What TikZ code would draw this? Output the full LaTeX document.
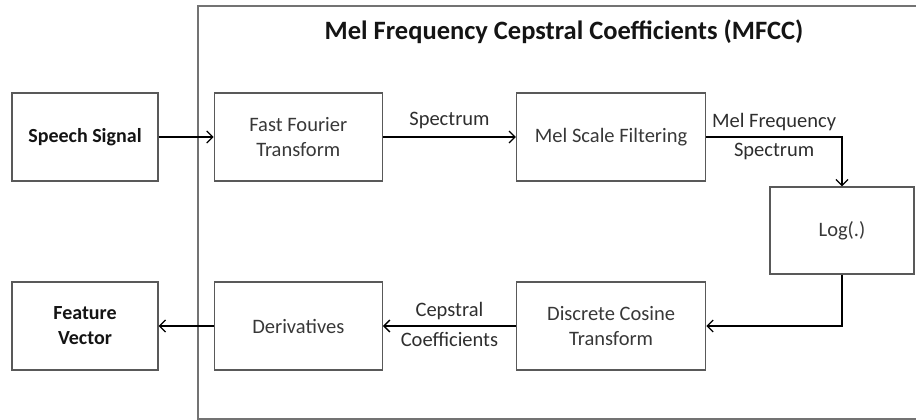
\documentclass[tikz,border=0pt]{standalone}
\usepackage{fontspec}
\setmainfont{Carlito}
\usetikzlibrary{positioning,arrows.meta}
\tikzstyle{block} = [rectangle, draw=black!65, line width=1.3pt, text=black!78, font=\fontsize{20.5}{25}\selectfont, align=center, minimum height=88pt, inner sep=2pt]
\tikzstyle{io} = [block, text=black!92, font=\bfseries\fontsize{20}{25}\selectfont, minimum width=146pt]
\tikzstyle{lbl} = [text=black!82, font=\fontsize{20.5}{25}\selectfont, align=center, inner sep=2pt]

\begin{document}
\begin{tikzpicture}[x=1pt, y=-1pt, >={Straight Barb[length=6pt,width=12pt,line width=1.3pt]}, node distance=55pt]
    \useasboundingbox (0,0) rectangle (916,420);
    % MFCC frame
    \begin{scope}
        \clip (0,0) rectangle (916,420);
        \draw[black!55, line width=1.5pt] (198,6) rectangle (930,419);
    \end{scope}
    \node[font=\bfseries\fontsize{26.5}{30}\selectfont, text=black!92] (title) at (564,32) {Mel Frequency Cepstral Coefficients (MFCC)};

    \node[io] (speech) at (85,137) {Speech Signal};
    \node[block, minimum width=168pt, right=55pt of speech] (fft) {Fast Fourier\\Transform};
    \node[block, minimum width=189pt, right=133pt of fft] (mel) {Mel Scale Filtering};
    \node[block, minimum width=144pt, minimum height=87pt] (log) at (842,230.5) {Log(.)};
    \node[io] (feature) at (85,326) {Feature\\Vector};
    \node[block, minimum width=168pt, right=55pt of feature] (deriv) {Derivatives};
    \node[block, minimum width=189pt, right=133pt of deriv] (dct) {Discrete Cosine\\Transform};

    % top row
    \draw[->, line width=1.2pt] (speech) -- (fft);
    \draw[->, line width=1.2pt] (fft) -- node[lbl, above=6pt] {Spectrum} (mel);
    \draw[->, line width=1.2pt] (mel) -| node[lbl, pos=0.25, above=4pt] {Mel Frequency}
        node[lbl, pos=0.25, below=4pt] {Spectrum} (log);

    % bottom row
    \draw[->, line width=1.2pt] (log) |- (dct);
    \draw[->, line width=1.2pt] (dct) -- node[lbl, above=4pt] {Cepstral}
        node[lbl, below=4pt] {Coefficients} (deriv);
    \draw[->, line width=1.2pt] (deriv) -- (feature);
\end{tikzpicture}
\end{document}
